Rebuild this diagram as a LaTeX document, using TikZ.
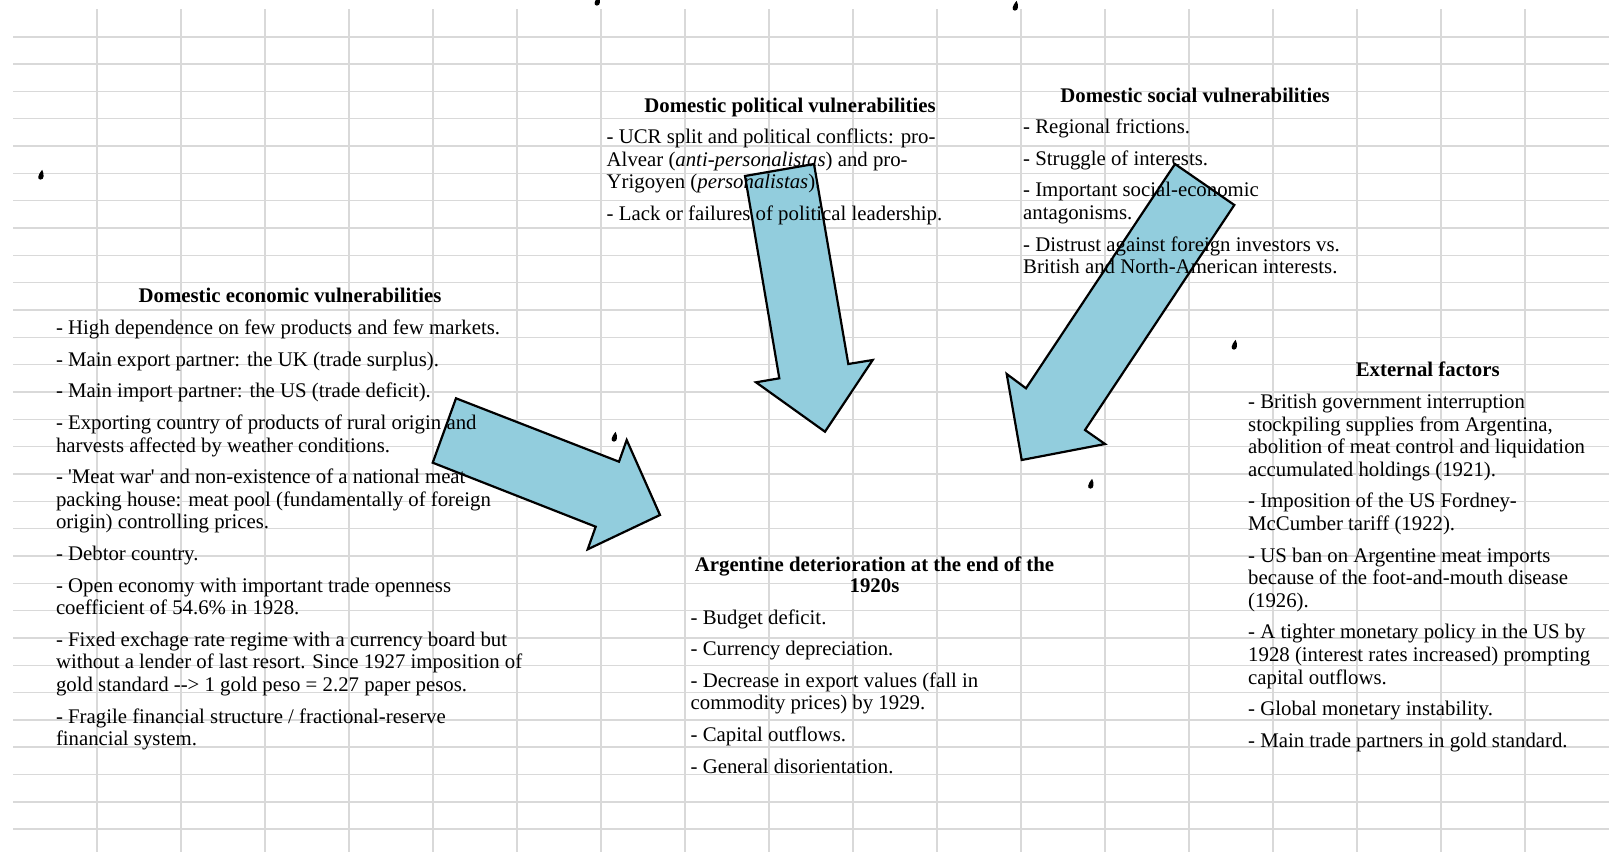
\documentclass[tikz,border=0pt]{standalone}
\usepackage{fontspec}
\setmainfont{Liberation Serif}
\definecolor{arrowblue}{RGB}{146,205,221}
\definecolor{gridgray}{RGB}{217,217,217}
\tikzset{
  gridline/.style={draw=gridgray, line width=1.6pt},
  blockarrow/.style={draw=black, fill=arrowblue, line width=2.2pt, line join=miter},
  ttl/.style={font=\fontsize{20.8}{21}\selectfont\bfseries, inner sep=0pt, anchor=base, align=center},
  body/.style={font=\fontsize{20.8}{22.6}\selectfont, inner sep=0pt, anchor=base west, align=left},
  tear/.pic={\fill[black] (1.6,-5.2) .. controls (3.8,-0.8) and (3.6,4.6) .. (0,4.6) .. controls (-3.6,4.6) and (-3.2,0.4) .. cycle;},
}
\begin{document}
\begin{tikzpicture}[x=1pt,y=-1pt]
\useasboundingbox (0,0) rectangle (1614,852);
\fill[white] (0,0) rectangle (1614,852);
% grid
\foreach \k in {0,...,29} \draw[gridline] (13,{36.7+27.33*\k}) -- (1609,{36.7+27.33*\k});
\foreach \k in {0,...,17} \draw[gridline] ({97+84*\k},9.4) -- ({97+84*\k},852);
% block arrows
\draw[blockarrow] (456,398.3) -- (619,461.7) -- (626.7,440) -- (660,515) -- (587.7,549.3) -- (595.7,526.7) -- (432.7,462.7) -- cycle;
\draw[blockarrow] (745,176) -- (814,164) -- (848.3,364) -- (872.7,360) -- (825,431.7) -- (756,382.3) -- (779.3,378.3) -- cycle;
\draw[blockarrow] (1175,164) -- (1234.3,205) -- (1085,430) -- (1105,444) -- (1021.7,460) -- (1006.7,374) -- (1026,388.3) -- cycle;
% small marks
\pic (m1) at (40.6,175) {tear};
\pic (m2) at (597,1) {tear};
\pic (m3) at (1015,6) {tear};
\pic (m4) at (614,437) {tear};
\pic (m5) at (1234,345) {tear};
\pic (m6) at (1090.5,484) {tear};
% texts (body nodes anchored at the baseline of their last line)
\node[ttl] (econT) at (290,302) {Domestic economic vulnerabilities};
\node[body] (econB) at (55.8,745.7) {- High dependence on few products and few markets.\\[9pt]
- Main export partner: the UK (trade surplus).\\[9pt]
- Main import partner: the US (trade deficit).\\[9pt]
- Exporting country of products of rural origin and\\
harvests affected by weather conditions.\\[9pt]
- \textquotesingle Meat war\textquotesingle{} and non-existence of a national meat\\
packing house: meat pool (fundamentally of foreign\\
origin) controlling prices.\\[9pt]
- Debtor country.\\[9pt]
- Open economy with important trade openness\\
coefficient of 54.6\% in 1928.\\[9pt]
- Fixed exchage rate regime with a currency board but\\
without a lender of last resort. Since 1927 imposition of\\
gold standard {-}{-}{>} 1 gold peso = 2.27 paper pesos.\\[9pt]
- Fragile financial structure / fractional-reserve\\
financial system.};
\node[ttl] (polT) at (790,112) {Domestic political vulnerabilities};
\node[body] (polB) at (606.5,220.3) {- UCR split and political conflicts: pro-\\
Alvear (\textit{anti-personalistas}) and pro-\\
Yrigoyen (\textit{personalistas}).\\[9pt]
- Lack or failures of political leadership.};
\node[ttl] (socT) at (1195,102.5) {Domestic social vulnerabilities};
\node[body] (socB) at (1023,273.7) {- Regional frictions.\\[9pt]
- Struggle of interests.\\[9pt]
- Important social-economic\\
antagonisms.\\[9pt]
- Distrust against foreign investors vs.\\
British and North-American interests.};
\node[ttl] (extT) at (1427.7,376.3) {External factors};
\node[body] (extB) at (1248,747.3) {- British government interruption\\
stockpiling supplies from Argentina,\\
abolition of meat control and liquidation\\
accumulated holdings (1921).\\[9pt]
- Imposition of the US Fordney-\\
McCumber tariff (1922).\\[9pt]
- US ban on Argentine meat imports\\
because of the foot-and-mouth disease\\
(1926).\\[9pt]
- A tighter monetary policy in the US by\\
1928 (interest rates increased) prompting\\
capital outflows.\\[9pt]
- Global monetary instability.\\[9pt]
- Main trade partners in gold standard.};
\node[ttl] (argT) at (874.5,592) {Argentine deterioration at the end of the\\1920s};
\node[body] (argB) at (690.5,773) {- Budget deficit.\\[9pt]
- Currency depreciation.\\[9pt]
- Decrease in export values (fall in\\
commodity prices) by 1929.\\[9pt]
- Capital outflows.\\[9pt]
- General disorientation.};
\end{tikzpicture}
\end{document}
